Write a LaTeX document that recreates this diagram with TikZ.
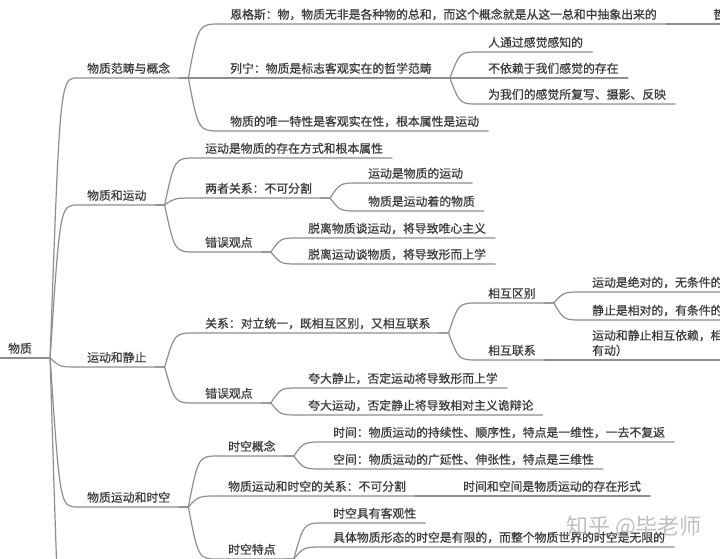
\documentclass[tikz,border=0pt]{standalone}
\usepackage{fontspec}
\newfontfamily\cjk[FakeBold=0.6]{Noto Sans CJK SC}
\newfontfamily\cjkwm{Noto Sans CJK SC}
\usetikzlibrary{calc}
\definecolor{linegray}{HTML}{8E8E8E}
\definecolor{txt}{HTML}{3A3A3A}
\definecolor{wm}{HTML}{B4B4B4}
\tikzset{
 topic/.style={anchor=south west, inner xsep=9pt, inner ysep=0pt, text depth=5pt, font=\cjk\fontsize{11.85}{15}\selectfont, text=txt},
 conn/.style={draw=linegray, line width=1.2pt, line cap=round},
}
\newcommand\lnk[2]{\draw[conn] (#1.south east) -- ++(9pt,0) coordinate (jn) .. controls ($(jn |- #2.south west)+(10pt,0)$) and ($(jn |- #2.south west)+(10pt,0)$) .. (#2.south west) -- (#2.south east);}
\begin{document}
\begin{tikzpicture}[x=1pt,y=-1pt]
\useasboundingbox (0,0) rectangle (720,558);
\clip (0,0) rectangle (720,558);
\fill[white] (0,0) rectangle (720,558);
% root
\node[topic] (r) at (-1,358) {物质};
\draw[conn] (r.south west) -- (r.south east);
% level 1
\node[topic] (a) at (78,78) {物质范畴与概念};
\node[topic] (b) at (78,205) {物质和运动};
\node[topic] (c) at (78,367) {运动和静止};
\node[topic] (d) at (78,507) {物质运动和时空};
\coordinate (e) at (78,690);
% under a
\node[topic] (a1) at (221,24) {恩格斯：物，物质无非是各种物的总和，而这个概念就是从这一总和中抽象出来的};
\node[topic] (a11) at (704,24) {哲};
\node[topic] (a2) at (221,78) {列宁：物质是标志客观实在的哲学范畴};
\node[topic] (a21) at (479,52) {人通过感觉感知的};
\node[topic] (a22) at (479,78) {不依赖于我们感觉的存在};
\node[topic] (a23) at (479,104) {为我们的感觉所复写、摄影、反映};
\node[topic] (a3) at (221,131) {物质的唯一特性是客观实在性，根本属性是运动};
% under b
\node[topic] (b1) at (196,158) {运动是物质的存在方式和根本属性};
\node[topic] (b2) at (196,198) {两者关系：不可分割};
\node[topic] (b21) at (359,183) {运动是物质的运动};
\node[topic] (b22) at (359,211) {物质是运动着的物质};
\node[topic] (b3) at (196,252) {错误观点};
\node[topic] (b31) at (299,238) {脱离物质谈运动，将导致唯心主义};
\node[topic] (b32) at (299,264) {脱离运动谈物质，将导致形而上学};
% under c
\node[topic] (c1) at (196,333) {关系：对立统一，既相互区别，又相互联系};
\node[topic] (c11) at (479,303) {相互区别};
\node[topic] (c111) at (583,292) {运动是绝对的，无条件的};
\node[topic] (c112) at (583,320) {静止是相对的，有条件的};
\node[topic] (c12) at (479,360) {相互联系};
\node[topic, align=left] (c121) at (583,360) {运动和静止相互依赖，相\\有动）};
\node[topic] (c2) at (196,403) {错误观点};
\node[topic] (c21) at (299,388) {夸大静止，否定运动将导致形而上学};
\node[topic] (c22) at (299,415) {夸大运动，否定静止将导致相对主义诡辩论};
% under d
\node[topic] (d1) at (219,456) {时空概念};
\node[topic] (d11) at (324,442) {时间：物质运动的持续性、顺序性，特点是一维性，一去不复返};
\node[topic] (d12) at (324,469) {空间：物质运动的广延性、伸张性，特点是三维性};
\node[topic] (d2) at (219,496) {物质运动和时空的关系：不可分割};
\node[topic] (d21) at (454,496) {时间和空间是物质运动的存在形式};
\node[topic] (d3) at (219,559) {时空特点};
\node[topic] (d31) at (324,523) {时空具有客观性};
\node[topic] (d32) at (324,547) {具体物质形态的时空是有限的，而整个物质世界的时空是无限的};
% connectors
\lnk{r}{a} \lnk{r}{b} \lnk{r}{c} \lnk{r}{d}
\draw[conn] (r.south east) -- ++(9pt,0) coordinate (jn) .. controls ($(jn |- e)+(10pt,0)$) and ($(jn |- e)+(10pt,0)$) .. (e);
\lnk{a}{a1} \lnk{a}{a2} \lnk{a}{a3}
\lnk{a1}{a11}
\lnk{a2}{a21} \lnk{a2}{a22} \lnk{a2}{a23}
\lnk{b}{b1} \lnk{b}{b2} \lnk{b}{b3}
\lnk{b2}{b21} \lnk{b2}{b22}
\lnk{b3}{b31} \lnk{b3}{b32}
\lnk{c}{c1} \lnk{c}{c2}
\lnk{c1}{c11} \lnk{c1}{c12}
\lnk{c11}{c111} \lnk{c11}{c112}
\lnk{c12}{c121}
\lnk{c2}{c21} \lnk{c2}{c22}
\lnk{d}{d1} \lnk{d}{d2} \lnk{d}{d3}
\lnk{d1}{d11} \lnk{d1}{d12}
\lnk{d2}{d21}
\lnk{d3}{d31} \lnk{d3}{d32}
% watermark
\node[anchor=west, inner sep=0pt, font=\cjkwm\fontsize{22}{22}\selectfont, text=wm, opacity=0.85] (wmk) at (566,527) {知乎 @毕老师};
\end{tikzpicture}
\end{document}
